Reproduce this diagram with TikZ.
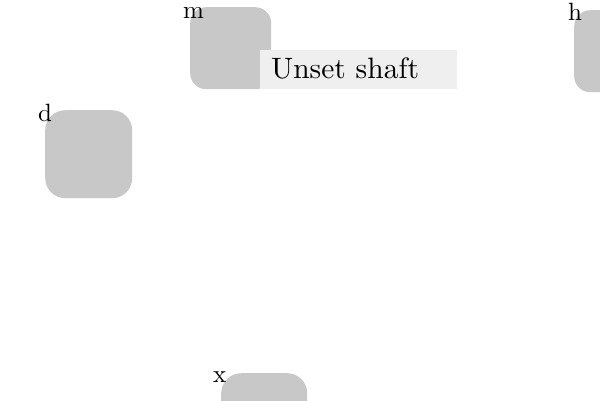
\documentclass[tikz,border=0pt]{standalone}
\usepackage{fontspec}
\setmainfont{lmroman10-regular}[Extension=.otf]
\begin{document}
\begin{tikzpicture}[x=1pt,y=-1pt,
  boxnode/.style={fill={rgb,255:red,200;green,200;blue,200},draw=none,rounded corners=16pt,inner sep=0pt,anchor=north west},
  lbl/.style={font=\fontsize{25}{27}\selectfont,inner sep=0pt,anchor=base west},
  tagnode/.style={fill={rgb,255:red,239;green,239;blue,239},draw=none,inner sep=0pt,anchor=north west,minimum width=197pt,minimum height=39pt}]
\useasboundingbox (0,0) rectangle (600,400);
\node[boxnode,minimum width=81pt,minimum height=82pt] (m) at (190,7) {};
\node[boxnode,minimum width=81pt,minimum height=82pt] (h) at (574,10) {};
\node[boxnode,minimum width=87pt,minimum height=88pt,rounded corners=20pt] (d) at (45,110) {};
\node[boxnode,minimum width=86pt,minimum height=88pt,rounded corners=20pt] (x) at (221,373) {};
\node[lbl] (ml) at (183,18) {m};
\node[lbl] (hl) at (568,20) {h};
\node[lbl] (dl) at (38,121) {d};
\node[lbl] (xl) at (213,382) {x};
\node[tagnode] (tag) at (260,50) {};
\node[font=\fontsize{29.5}{31}\selectfont,inner sep=0pt,anchor=base west] (tagtext) at (271,78) {Unset shaft};
\end{tikzpicture}
\end{document}
